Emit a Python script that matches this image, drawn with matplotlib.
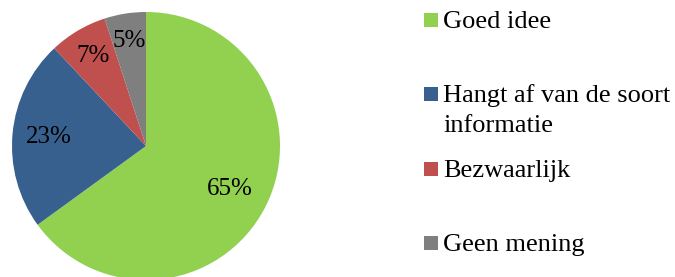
import numpy as np
import matplotlib
matplotlib.use("Agg")
import matplotlib.pyplot as plt
from matplotlib.patches import Rectangle

# Data
labels = ["Goed idee", "Hangt af van de soort\ninformatie", "Bezwaarlijk", "Geen mening"]
values = [65, 23, 7, 5]
colors = ["#92D050", "#37608F", "#C0504D", "#7F7F7F"]

# label distance from centre (fraction of radius), per slice
label_dist = [0.70, 0.73, 0.78, 0.79]
# legend square top (pixels from top of image)
legend_top = [13, 87, 162, 236]

plt.rcParams["font.family"] = ["Liberation Serif", "DejaVu Serif"]

W, H = 675, 277
fig = plt.figure(figsize=(W / 100, H / 100), dpi=100)

# pie axes: centre (146, 146) px, radius 134 px
cx, cy, r = 146, 146, 134
ax = fig.add_axes([(cx - r) / W, (H - cy - r) / H, 2 * r / W, 2 * r / H])
wedges, _ = ax.pie(values, colors=colors, startangle=90, counterclock=False,
                   radius=1, wedgeprops=dict(linewidth=0))
ax.set_xlim(-1, 1)
ax.set_ylim(-1, 1)
ax.set_aspect("equal")
ax.axis("off")

for w, v, d in zip(wedges, values, label_dist):
    ang = np.deg2rad((w.theta1 + w.theta2) / 2)
    ax.text(d * np.cos(ang), d * np.sin(ang), f"{v}%", ha="center", va="center",
            fontsize=18, color="black")

# legend drawn by hand to follow the original spacing
sq = 14
line_step = 30
for lab, col, top in zip(labels, colors, legend_top):
    fig.patches.append(Rectangle((424 / W, (H - top - sq) / H), sq / W, sq / H,
                                 transform=fig.transFigure, facecolor=col,
                                 edgecolor="none"))
    for i, line in enumerate(lab.split("\n")):
        base = top + sq + 1 + i * line_step
        fig.text(443 / W, (H - base) / H, line, ha="left", va="baseline",
                 fontsize=19, color="black")

fig.savefig("out.png", dpi=100)
